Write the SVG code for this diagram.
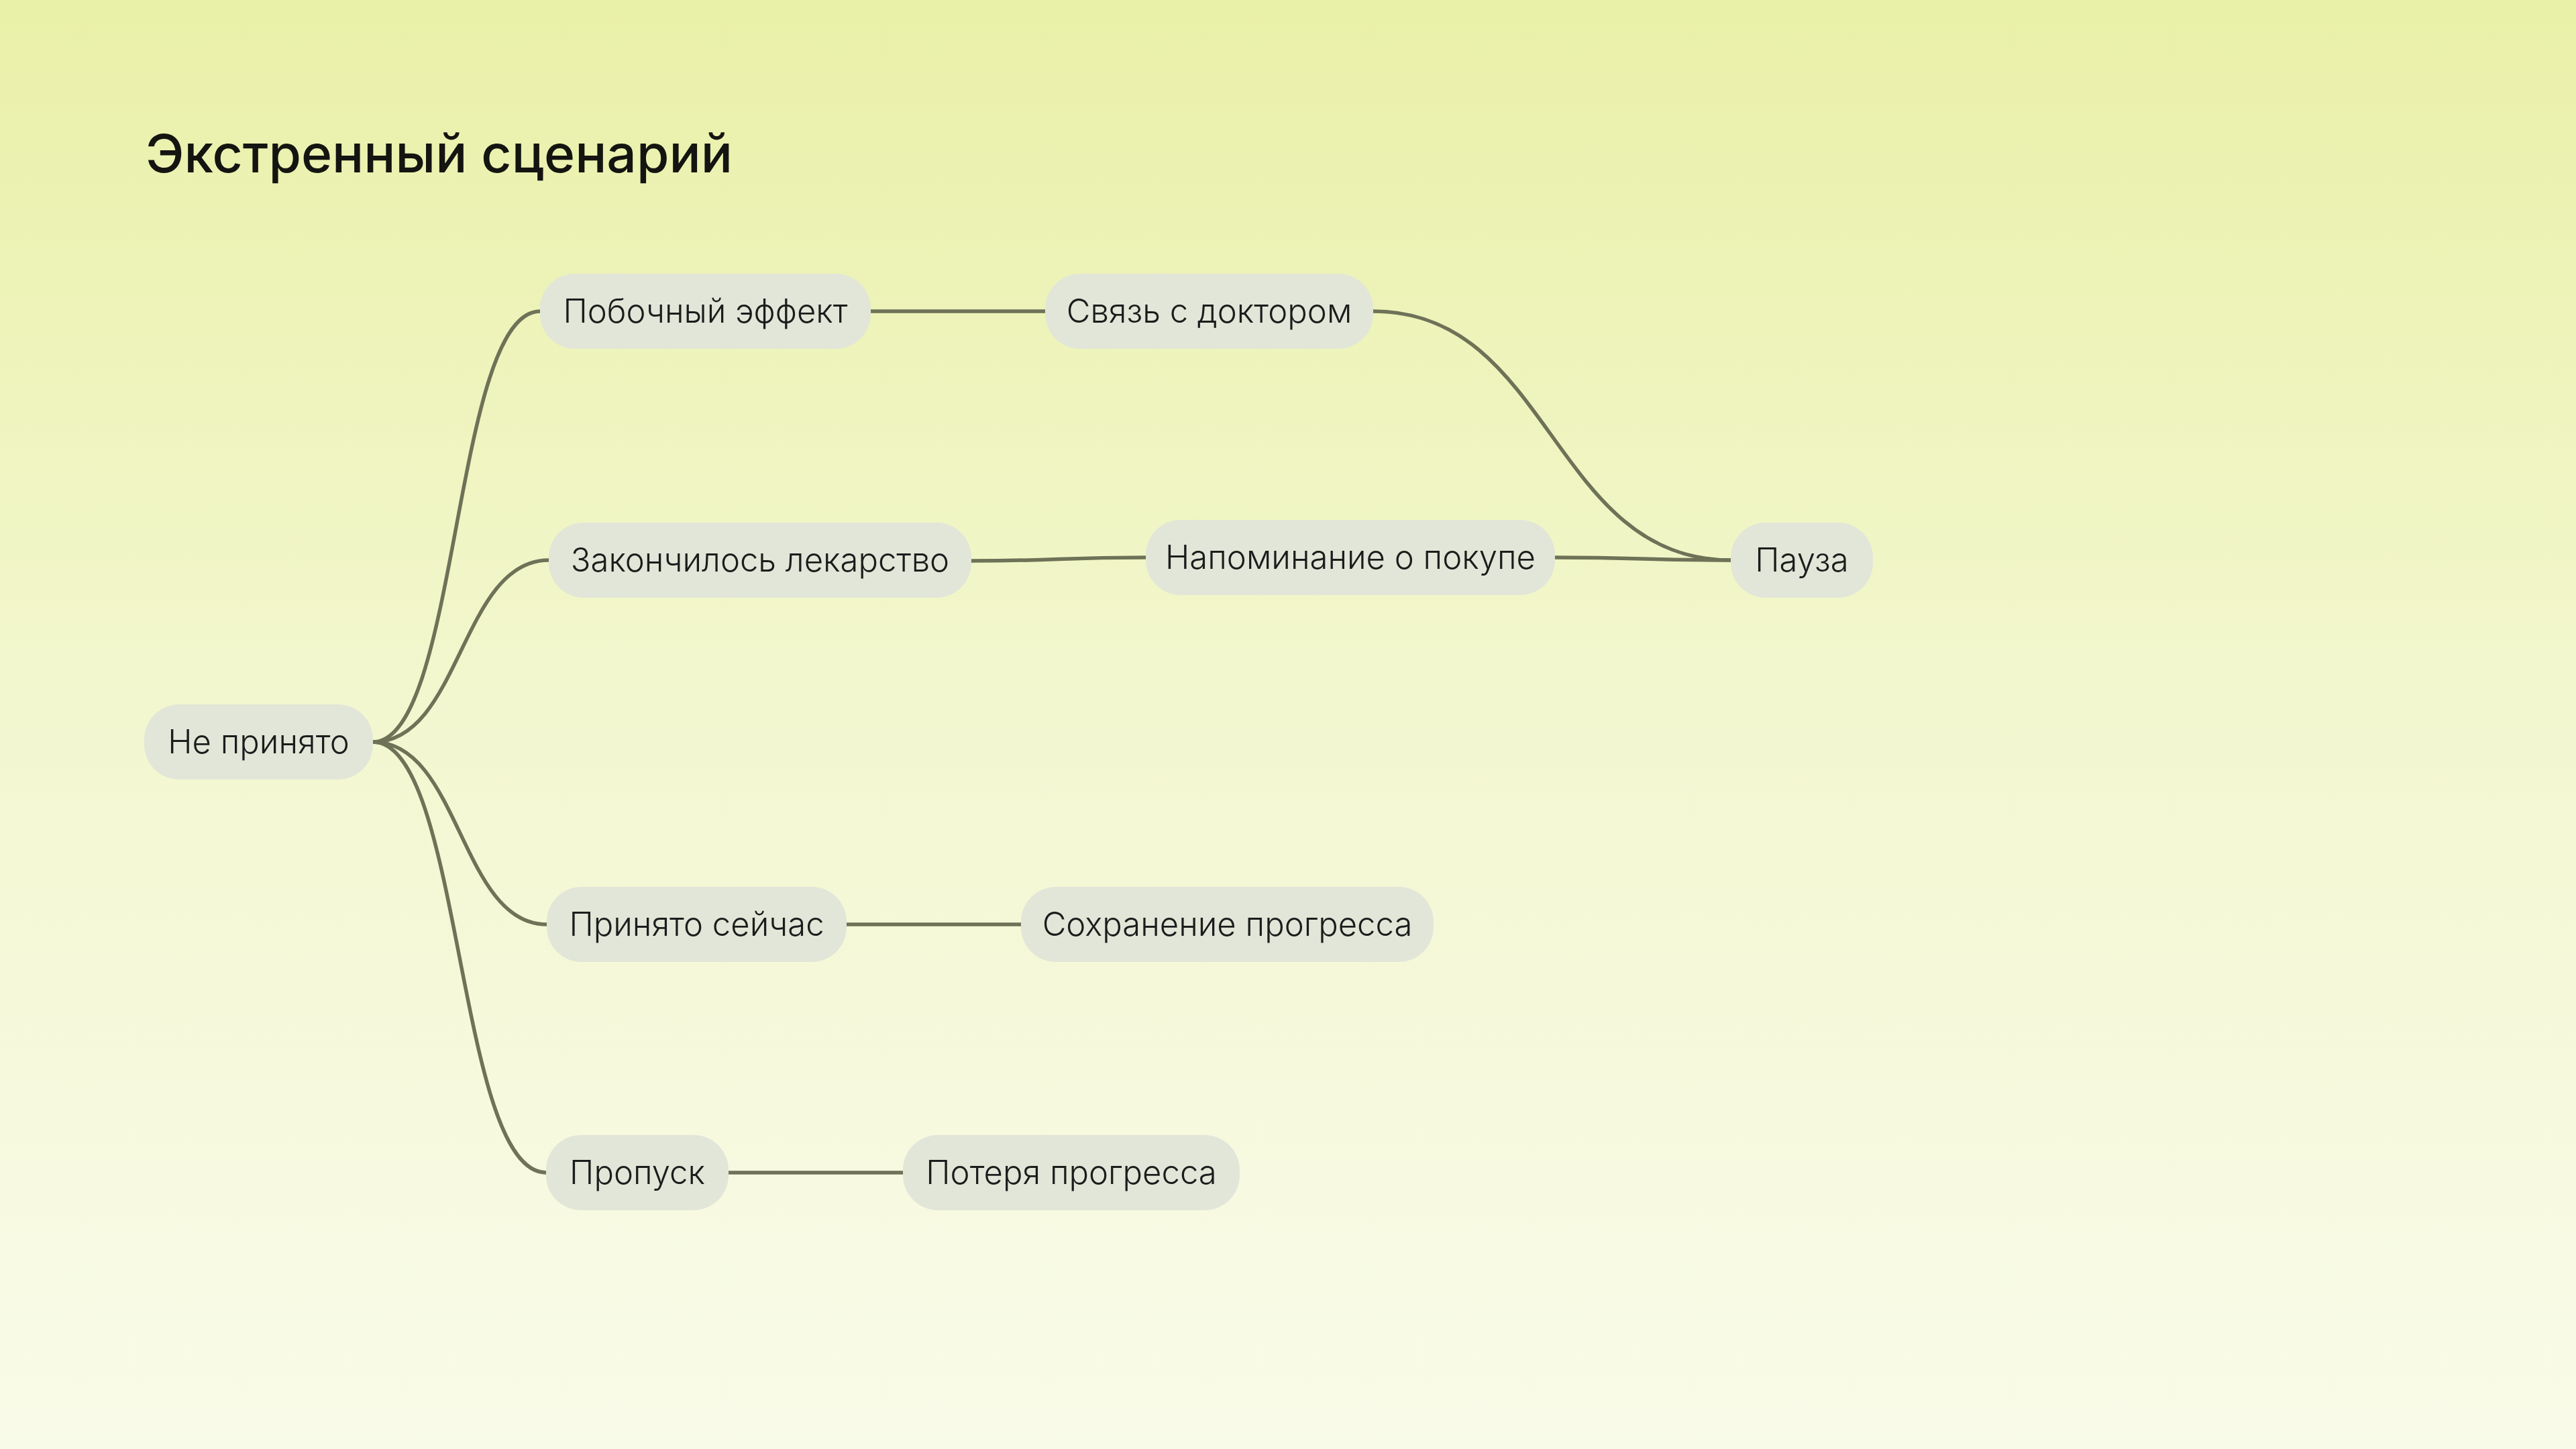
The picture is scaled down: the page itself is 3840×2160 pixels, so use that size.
<svg xmlns="http://www.w3.org/2000/svg" width="3840" height="2160" viewBox="0 0 3840 2160">
  <defs>
    <linearGradient id="bg" x1="0" y1="0" x2="0" y2="1">
      <stop offset="0" stop-color="#e9f0a7"/>
      <stop offset="0.5" stop-color="#f3f7d0"/>
      <stop offset="1" stop-color="#f9fbe9"/>
    </linearGradient>
  </defs>
  <style>
    .node rect { fill: #e2e6d8; }
    .node text { font-family: Inter, "Noto Sans", "Liberation Sans", sans-serif; font-size: 49px; font-weight: 300; fill: #1c1c1c; text-anchor: middle; }
    .conn path { fill: none; stroke: #6e7257; stroke-width: 5.5; stroke-linecap: round; }
    .title { font-family: Inter, "Liberation Sans", sans-serif; font-size: 78.5px; font-weight: 500; fill: #141510; }
  </style>
  <rect x="0" y="0" width="3840" height="2160" fill="url(#bg)"/>
  <text class="title" x="217" y="257">Экстренный сценарий</text>

  <g class="conn" id="connectors">
    <path d="M556,1106 C684,1106 676,464 805,464"/>
    <path d="M556,1106 C687,1106 687,835 818,835"/>
    <path d="M556,1106 C686,1106 686,1378 815,1378"/>
    <path d="M556,1106 C689,1106 681,1748 814,1748"/>
    <path d="M1298,464 L1558,464"/>
    <path d="M2047,464 C2313,464 2313,835 2580,835"/>
    <path d="M1448,836 C1578,836 1578,831 1708,831"/>
    <path d="M2318,831 C2449,831 2449,835 2580,835"/>
    <path d="M1262,1378 L1522,1378"/>
    <path d="M1086,1748 L1346,1748"/>
  </g>

  <g class="node" id="node-ne-prinyato">
    <rect x="215" y="1050" width="341" height="112" rx="52"/>
    <text x="385.5" y="1123">Не принято</text>
  </g>
  <g class="node" id="node-pobochny">
    <rect x="805" y="408" width="493" height="112" rx="52"/>
    <text x="1051.5" y="481">Побочный эффект</text>
  </g>
  <g class="node" id="node-svyaz">
    <rect x="1558" y="408" width="489" height="112" rx="52"/>
    <text x="1802.5" y="481">Связь с доктором</text>
  </g>
  <g class="node" id="node-zakonchilos">
    <rect x="818" y="779" width="630" height="112" rx="52"/>
    <text x="1133" y="852">Закончилось лекарство</text>
  </g>
  <g class="node" id="node-napominanie">
    <rect x="1708" y="775" width="610" height="112" rx="52"/>
    <text x="2013" y="848">Напоминание о покупе</text>
  </g>
  <g class="node" id="node-pauza">
    <rect x="2580" y="779" width="212" height="112" rx="52"/>
    <text x="2686" y="852">Пауза</text>
  </g>
  <g class="node" id="node-prinyato-seychas">
    <rect x="815" y="1322" width="447" height="112" rx="52"/>
    <text x="1038.5" y="1395">Принято сейчас</text>
  </g>
  <g class="node" id="node-sokhranenie">
    <rect x="1522" y="1322" width="615" height="112" rx="52"/>
    <text x="1829.5" y="1395">Сохранение прогресса</text>
  </g>
  <g class="node" id="node-propusk">
    <rect x="814" y="1692" width="272" height="112" rx="52"/>
    <text x="950" y="1765">Пропуск</text>
  </g>
  <g class="node" id="node-poterya">
    <rect x="1346" y="1692" width="502" height="112" rx="52"/>
    <text x="1597" y="1765">Потеря прогресса</text>
  </g>
</svg>
